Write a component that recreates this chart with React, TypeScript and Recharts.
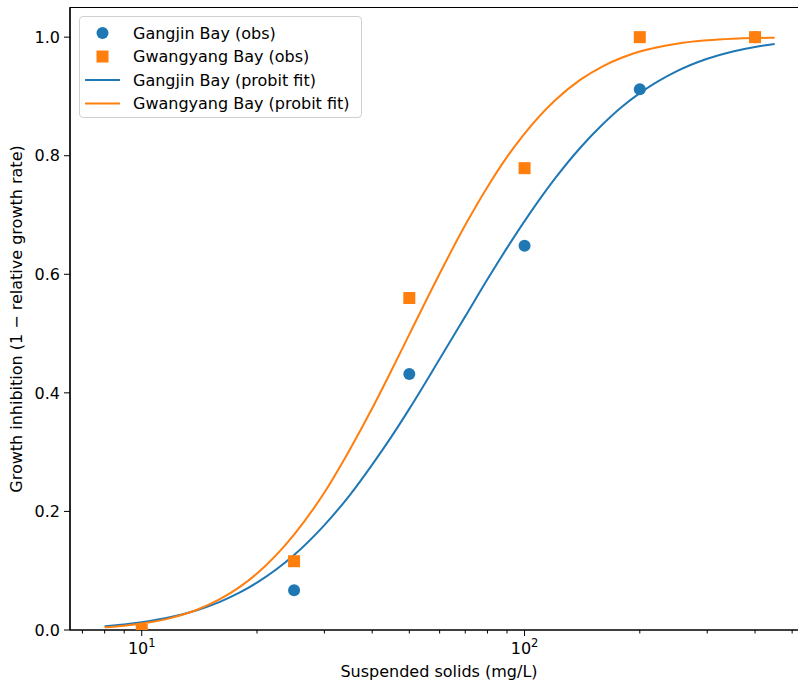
import React from 'react';
import {
  ComposedChart,
  Scatter,
  Line,
  XAxis,
  YAxis,
  ReferenceArea,
} from 'recharts';

// observed inhibition at each suspended-solids level
const concentrations = [10, 25, 50, 100, 200, 400];
const gangjinObs = [0, 0.067, 0.432, 0.648, 0.912, 1.0];
const gwangyangObs = [0, 0.116, 0.56, 0.779, 1.0, 1.0];

// probit fit curves
const fitX = [8, 9, 10, 12, 14, 16, 18, 20, 25, 30, 35, 40, 45, 50, 60, 70, 80, 90, 100, 120, 140, 160, 180, 200, 250, 300, 350, 400, 450];
const gangjinFit = [0.0064, 0.0094, 0.013, 0.0222, 0.0338, 0.0475, 0.0629, 0.0799, 0.1265, 0.177, 0.228, 0.279, 0.327, 0.373, 0.457, 0.529, 0.5915, 0.6445, 0.6897, 0.7613, 0.8139, 0.853, 0.883, 0.9055, 0.9426, 0.9635, 0.9759, 0.9835, 0.9884];
const gwangyangFit = [0.0045, 0.0072, 0.0108, 0.0209, 0.0346, 0.0519, 0.0723, 0.0953, 0.161, 0.232, 0.305, 0.374, 0.439, 0.4987, 0.601, 0.683, 0.7473, 0.798, 0.8374, 0.8932, 0.9283, 0.9508, 0.9657, 0.9757, 0.989, 0.9946, 0.9972, 0.9985, 0.9991];

const xTicks = [7, 8, 9, 10, 20, 30, 40, 50, 60, 70, 80, 90, 100, 200, 300, 400, 500];
const yTicks = [0, 0.2, 0.4, 0.6, 0.8, 1.0];

const BLUE = '#1f77b4';
const ORANGE = '#ff7f0e';
const FONT = '"DejaVu Sans", sans-serif';
const X_DOMAIN: [number, number] = [6.496, 550];
const Y_DOMAIN: [number, number] = [0, 1.05];

const gangjinObsData = concentrations.map((x, i) => ({ x, y: gangjinObs[i] }));
const gwangyangObsData = concentrations.map((x, i) => ({ x, y: gwangyangObs[i] }));
const gangjinFitData = fitX.map((x, i) => ({ x, y: gangjinFit[i] }));
const gwangyangFitData = fitX.map((x, i) => ({ x, y: gwangyangFit[i] }));

const legendItems = [
  { label: 'Gangjin Bay (obs)', kind: 'circle', color: BLUE },
  { label: 'Gwangyang Bay (obs)', kind: 'square', color: ORANGE },
  { label: 'Gangjin Bay (probit fit)', kind: 'line', color: BLUE },
  { label: 'Gwangyang Bay (probit fit)', kind: 'line', color: ORANGE },
];

const LogTick = (props: any) => {
  const { x, y, payload } = props;
  const v = payload.value;
  const exp = Math.log10(v);
  const major = Math.abs(exp - Math.round(exp)) < 1e-9;
  return (
    <g>
      <line x1={x} x2={x} y1={y} y2={y + (major ? 6 : 3.5)} stroke="#000" strokeWidth={1} />
      {major && (
        <text x={x} y={y + 24} textAnchor="middle" fontFamily={FONT} fontSize={16} fill="#000">
          <tspan>10</tspan>
          <tspan dy={-7} fontSize={11.5}>{Math.round(exp)}</tspan>
        </text>
      )}
    </g>
  );
};

const LegendBox = () => (
  <div
    style={{
      position: 'absolute',
      left: 79,
      top: 16,
      width: 283,
      height: 102,
      border: '1px solid #d0d0d0',
      borderRadius: 4,
      background: 'rgba(255,255,255,0.85)',
      boxSizing: 'border-box',
    }}
  >
    <svg width={281} height={100} style={{ display: 'block' }}>
      {legendItems.map((item, i) => {
        const cy = 16 + i * 23.5;
        return (
          <g key={item.label}>
            {item.kind === 'circle' && <circle cx={22.5} cy={cy} r={6} fill={item.color} />}
            {item.kind === 'square' && <rect x={16.5} y={cy - 6} width={12} height={12} fill={item.color} />}
            {item.kind === 'line' && <line x1={5} x2={40} y1={cy} y2={cy} stroke={item.color} strokeWidth={2} />}
            <text x={53} y={cy + 5.5} fontFamily={FONT} fontSize={16} fill="#000">
              {item.label}
            </text>
          </g>
        );
      })}
    </svg>
  </div>
);

export default function App() {
  return (
    <div style={{ position: 'absolute', left: 0, top: 0, width: 798, height: 683, overflow: 'hidden', background: '#fff' }}>
      <ComposedChart width={830} height={683} margin={{ top: 7.5, right: 22, bottom: 0, left: 0 }}>
        <XAxis
          dataKey="x"
          type="number"
          scale="log"
          domain={X_DOMAIN}
          allowDataOverflow
          ticks={xTicks}
          interval={0}
          height={53}
          tickSize={0}
          tickMargin={0}
          tickLine={false}
          tick={<LogTick />}
          axisLine={{ stroke: '#000', strokeWidth: 1.2 }}
        />
        <YAxis
          type="number"
          domain={Y_DOMAIN}
          allowDataOverflow
          ticks={yTicks}
          width={70}
          tickSize={6}
          tickMargin={4}
          tickFormatter={(v: number) => v.toFixed(1)}
          tick={{ fill: '#000', fontSize: 16, fontFamily: FONT }}
          tickLine={{ stroke: '#000' }}
          axisLine={{ stroke: '#000', strokeWidth: 1.2 }}
        />
        <ReferenceArea
          x1={X_DOMAIN[0]}
          x2={X_DOMAIN[1]}
          y1={Y_DOMAIN[0]}
          y2={Y_DOMAIN[1]}
          fill="none"
          stroke="#000"
          strokeWidth={1.2}
          ifOverflow="visible"
        />
        <Scatter
          data={gangjinObsData}
          dataKey="y"
          fill={BLUE}
          isAnimationActive={false}
          shape={(p: any) => <circle cx={p.cx} cy={p.cy} r={6} fill={BLUE} />}
        />
        <Scatter
          data={gwangyangObsData}
          dataKey="y"
          fill={ORANGE}
          isAnimationActive={false}
          shape={(p: any) => <rect x={p.cx - 6} y={p.cy - 6} width={12} height={12} fill={ORANGE} />}
        />
        <Line
          data={gangjinFitData}
          dataKey="y"
          type="monotone"
          stroke={BLUE}
          strokeWidth={2}
          dot={false}
          activeDot={false}
          isAnimationActive={false}
        />
        <Line
          data={gwangyangFitData}
          dataKey="y"
          type="monotone"
          stroke={ORANGE}
          strokeWidth={2}
          dot={false}
          activeDot={false}
          isAnimationActive={false}
        />
      </ComposedChart>
      <LegendBox />
      <div
        style={{
          position: 'absolute',
          left: 439,
          top: 671,
          transform: 'translate(-50%, -50%)',
          whiteSpace: 'nowrap',
          fontFamily: FONT,
          fontSize: 16,
          color: '#000',
        }}
      >
        Suspended solids (mg/L)
      </div>
      <div
        style={{
          position: 'absolute',
          left: 16,
          top: 319,
          transform: 'translate(-50%, -50%) rotate(-90deg)',
          whiteSpace: 'nowrap',
          fontFamily: FONT,
          fontSize: 16,
          color: '#000',
        }}
      >
        Growth inhibition (1 − relative growth rate)
      </div>
    </div>
  );
}
